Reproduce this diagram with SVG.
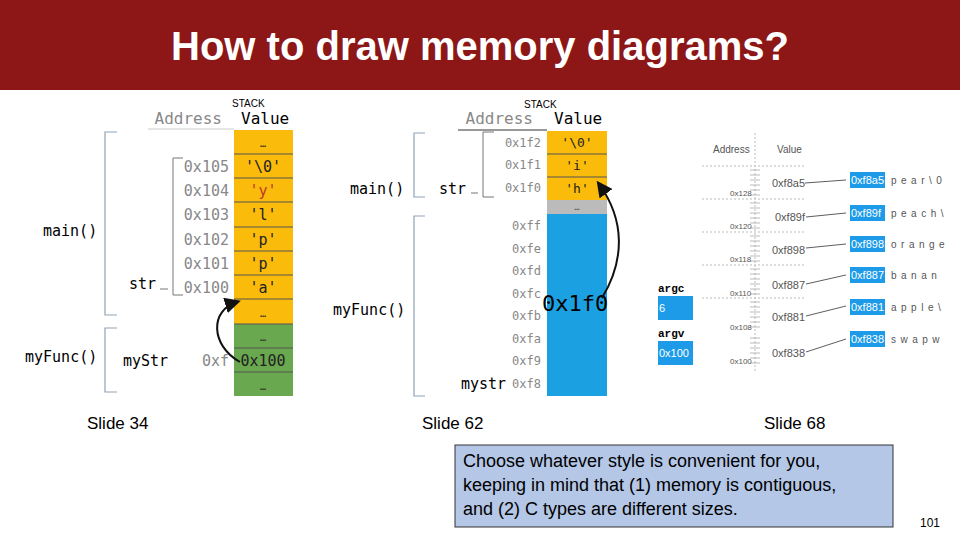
<svg xmlns="http://www.w3.org/2000/svg" width="960" height="540" viewBox="0 0 960 540">
<style>
.m{font-family:"DejaVu Sans Mono",monospace}
.ad{fill:#888;text-anchor:end}
.v{text-anchor:middle;fill:#222}
.br{fill:none;stroke:#8fa3b8;stroke-width:1.2}
.s{font-family:"Liberation Sans",Arial,sans-serif}
.sm{font-family:"Liberation Sans",Arial,sans-serif;fill:#555}
.bb{fill:#1e9be8}
.bt{font-family:"Liberation Sans",Arial,sans-serif;font-size:11px;fill:#fff}
.lt{font-family:"Liberation Sans",Arial,sans-serif;fill:#555}
.row{stroke:#555;stroke-width:1}
</style>
<defs><marker id="ah" markerWidth="8" markerHeight="8" refX="6" refY="4" orient="auto"><path d="M0,0L8,4L0,8z" fill="#111"/></marker></defs>
<rect x="0" y="0" width="960" height="90" fill="#8d1717"/>
<text x="480" y="60" text-anchor="middle" class="s" font-size="40" font-weight="bold" fill="#fff">How to draw memory diagrams?</text>

<g id="slide34" font-size="15">
<text x="232" y="107" class="s" font-size="10">STACK</text>
<text x="222" y="124" class="m ad" font-size="16">Address</text>
<text x="241" y="124" class="m" font-size="16">Value</text>
<line x1="148" y1="129" x2="234" y2="129" stroke="#ccc"/>
<rect x="234" y="130" width="59" height="194" fill="#fbbb0b"/>
<rect x="234" y="324" width="59" height="72" fill="#6aa84f"/>
<g class="row"><line x1="234" y1="154" x2="293" y2="154"/><line x1="234" y1="178" x2="293" y2="178"/><line x1="234" y1="202" x2="293" y2="202"/><line x1="234" y1="227" x2="293" y2="227"/><line x1="234" y1="251" x2="293" y2="251"/><line x1="234" y1="275" x2="293" y2="275"/><line x1="234" y1="299" x2="293" y2="299"/><line x1="234" y1="324" x2="293" y2="324"/><line x1="234" y1="348" x2="293" y2="348"/><line x1="234" y1="372" x2="293" y2="372"/></g>
<g class="m v"><text x="263" y="147" font-size="10">…</text><text x="263" y="172">'\0'</text><text x="263" y="196" fill="#c0392b">'y'</text><text x="263" y="220">'l'</text><text x="263" y="245">'p'</text><text x="263" y="269">'p'</text><text x="263" y="293">'a'</text><text x="263" y="317" font-size="10">…</text><text x="263" y="341" font-size="10">…</text><text x="263" y="366">0x100</text><text x="263" y="390" font-size="10">…</text></g>
<g class="m ad"><text x="229" y="172">0x105</text><text x="229" y="196">0x104</text><text x="229" y="220">0x103</text><text x="229" y="245">0x102</text><text x="229" y="269">0x101</text><text x="229" y="293">0x100</text><text x="229" y="366">0xf</text></g>
<path class="br" d="M117,132H105V315H117M117,328H105V392H117"/>
<path d="M183,158H173V295H183M168,289H160" fill="none" stroke="#777"/>
<text x="43" y="236" class="m">main()</text>
<text x="25" y="362" class="m">myFunc()</text>
<text x="129" y="289" class="m">str</text>
<text x="123" y="366" class="m">myStr</text>
</g>

<g id="slide62" font-size="15">
<text x="524" y="108" class="s" font-size="10">STACK</text>
<text x="533" y="124" class="m ad" font-size="16">Address</text>
<text x="554" y="124" class="m" font-size="16">Value</text>
<line x1="458" y1="130" x2="547" y2="130" stroke="#333"/>
<rect x="547" y="131" width="60" height="69" fill="#fbbb0b"/>
<rect x="547" y="200" width="60" height="14" fill="#bbb"/>
<rect x="547" y="214" width="60" height="182" fill="#1ba1e2"/>
<g class="row"><line x1="547" y1="154" x2="607" y2="154"/><line x1="547" y1="177" x2="607" y2="177"/></g>
<g class="m v" font-size="13"><text x="577" y="147">'\0'</text><text x="577" y="170">'i'</text><text x="577" y="193">'h'</text><text x="577" y="210" font-size="9" fill="#555">…</text></g>
<g class="m ad" font-size="12"><text x="541" y="147">0x1f2</text><text x="541" y="169">0x1f1</text><text x="541" y="192">0x1f0</text><text x="541" y="230">0xff</text><text x="541" y="253">0xfe</text><text x="541" y="275">0xfd</text><text x="541" y="298">0xfc</text><text x="541" y="320">0xfb</text><text x="541" y="343">0xfa</text><text x="541" y="365">0xf9</text><text x="541" y="388">0xf8</text></g>
<text x="542" y="311" class="m" font-size="22">0x1f0</text>
<path class="br" d="M425,133H414V197H425M425,216H414V396H425"/>
<path d="M494,132H483V197H494M478,193H471" fill="none" stroke="#777"/>
<text x="350" y="194" class="m">main()</text>
<text x="333" y="315" class="m">myFunc()</text>
<text x="439" y="194" class="m">str</text>
<text x="461" y="389" class="m">mystr</text>
</g>

<g id="slide68">
<text x="713" y="153" class="sm" font-size="10">Address</text><text x="777" y="153" class="sm" font-size="10">Value</text>
<line x1="755" y1="133" x2="755" y2="372" stroke="#bbb" stroke-dasharray="2,2"/>
<g stroke="#bbb" stroke-dasharray="2,2"><line x1="702" y1="166" x2="805" y2="166"/><line x1="702" y1="199" x2="805" y2="199"/><line x1="702" y1="232" x2="805" y2="232"/><line x1="702" y1="265" x2="805" y2="265"/><line x1="702" y1="298" x2="805" y2="298"/></g>
<path d="M750,170h10M750,175h10M750,180h10M750,185h10M750,190h10M750,195h10M750,203h10M750,208h10M750,213h10M750,218h10M750,223h10M750,228h10M750,236h10M750,241h10M750,246h10M750,251h10M750,256h10M750,261h10M750,269h10M750,274h10M750,279h10M750,284h10M750,289h10M750,294h10M750,302h10M750,307h10M750,312h10M750,317h10M750,322h10M750,327h10M750,338h10M750,343h10M750,348h10M750,353h10M750,358h10M750,363h10" stroke="#aaa" stroke-width="0.8"/>
<g class="sm" font-size="8"><text x="730" y="196">0x128</text><text x="730" y="229">0x120</text><text x="730" y="262">0x118</text><text x="730" y="296">0x110</text><text x="730" y="330">0x108</text><text x="730" y="364">0x100</text></g>
<g class="lt" font-size="11"><text x="772" y="187">0xf8a5</text><text x="775" y="221">0xf89f</text><text x="772" y="254">0xf898</text><text x="772" y="289">0xf887</text><text x="772" y="321">0xf881</text><text x="772" y="357">0xf838</text></g>
<g stroke="#333" stroke-width="0.8"><line x1="805" y1="183" x2="846" y2="180"/><line x1="806" y1="217" x2="846" y2="213"/><line x1="806" y1="248" x2="846" y2="244"/><line x1="806" y1="284" x2="846" y2="275"/><line x1="806" y1="316" x2="846" y2="306"/><line x1="806" y1="352" x2="846" y2="339"/></g>
<rect class="bb" x="850" y="172" width="35" height="16"/><rect class="bb" x="850" y="205" width="35" height="16"/><rect class="bb" x="850" y="236" width="35" height="16"/><rect class="bb" x="850" y="267" width="35" height="16"/><rect class="bb" x="850" y="299" width="35" height="16"/><rect class="bb" x="850" y="331" width="35" height="16"/>
<g class="bt"><text x="851" y="184">0xf8a5</text><text x="851" y="217">0xf89f</text><text x="851" y="248">0xf898</text><text x="851" y="279">0xf887</text><text x="851" y="311">0xf881</text><text x="851" y="343">0xf838</text></g>
<g class="lt" font-size="10" letter-spacing="4.5"><text x="891" y="184">pear\0</text><text x="891" y="217">peach\</text><text x="891" y="248">orange</text><text x="891" y="279">banan</text><text x="891" y="311">apple\</text><text x="891" y="343">swapw</text></g>
<text x="658" y="292" font-family="Liberation Mono,monospace" font-size="11" font-weight="bold">argc</text>
<rect class="bb" x="658" y="296" width="35" height="24"/><text x="659" y="312" class="bt">6</text>
<text x="658" y="337" font-family="Liberation Mono,monospace" font-size="11" font-weight="bold">argv</text>
<rect class="bb" x="658" y="341" width="35" height="24"/><text x="659" y="357" class="bt">0x100</text>
</g>

<g id="connectors" fill="none" stroke="#111" stroke-width="2">
<path d="M240,362C210,345 210,310 237,302" marker-end="url(#ah)"/>
<path d="M602,298C625,260 625,220 599,184" marker-end="url(#ah)"/>
</g>

<g class="s" font-size="17"><text x="87" y="429">Slide 34</text><text x="422" y="429">Slide 62</text><text x="764" y="429">Slide 68</text></g>
<g id="note">
<rect x="455" y="445" width="438" height="82" fill="#b4c7e7" stroke="#333"/>
<g class="s" font-size="18"><text x="463" y="467">Choose whatever style is convenient for you,</text><text x="463" y="491">keeping in mind that (1) memory is contiguous,</text><text x="463" y="515">and (2) C types are different sizes.</text></g>
</g>
<text x="920" y="527" class="s" font-size="12">101</text>
</svg>
